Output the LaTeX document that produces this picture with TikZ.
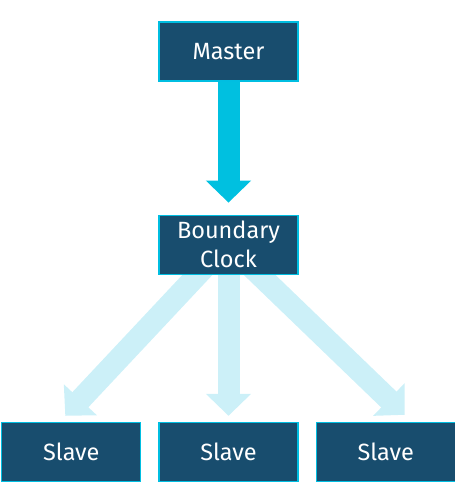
\documentclass[tikz,border=0pt]{standalone}
\usepackage{fontspec}
\setmainfont{Fira Sans}
\usepackage{tikz}
\usetikzlibrary{arrows.meta, positioning, backgrounds}
\definecolor{boxblue}{RGB}{24,77,110}
\definecolor{boxedge}{RGB}{0,190,225}
\definecolor{mycyan}{RGB}{0,192,224}
\definecolor{mypale}{RGB}{204,240,248}
\tikzset{
  clockbox/.style={rectangle, draw=boxedge, fill=boxblue, text=white,
    minimum width=139pt, minimum height=59pt, align=center, inner sep=0pt,
    font=\fontsize{23.5}{29}\selectfont, line width=1.2pt},
  fatarrow/.style={-{Triangle[width=44pt, length=22pt]}, line width=22pt, color=mycyan},
  palearrow/.style={-{Triangle[width=44pt, length=22pt]}, line width=22pt, color=mypale}
}

\begin{document}
\begin{tikzpicture}[x=1pt, y=1pt]
  \useasboundingbox (0,0) rectangle (455,-501);
  % Master and boundary clock
  \node[clockbox] (master) at (228.5,-51.5) {Master};
  \node[clockbox, below=133pt of master] (bc) {Boundary\\Clock};
  % Slaves
  \node[clockbox, below=147pt of bc] (slave2) {Slave};
  \node[clockbox, left=17pt of slave2] (slave1) {Slave};
  \node[clockbox, right=17pt of slave2] (slave3) {Slave};

  \begin{pgfonlayer}{background}
    \draw[fatarrow, shorten >=12pt] (master.south) -- (bc.north);
    \draw[palearrow, shorten >=6pt] (bc.south) -- (slave2.north);
    \draw[palearrow, shorten <=-14pt] ([xshift=-31pt]bc.south) -- ([xshift=-6pt, yshift=6pt]slave1.north);
    \draw[palearrow, shorten <=-14pt] ([xshift=31pt]bc.south) -- ([xshift=19pt, yshift=7pt]slave3.north);
  \end{pgfonlayer}
\end{tikzpicture}
\end{document}
